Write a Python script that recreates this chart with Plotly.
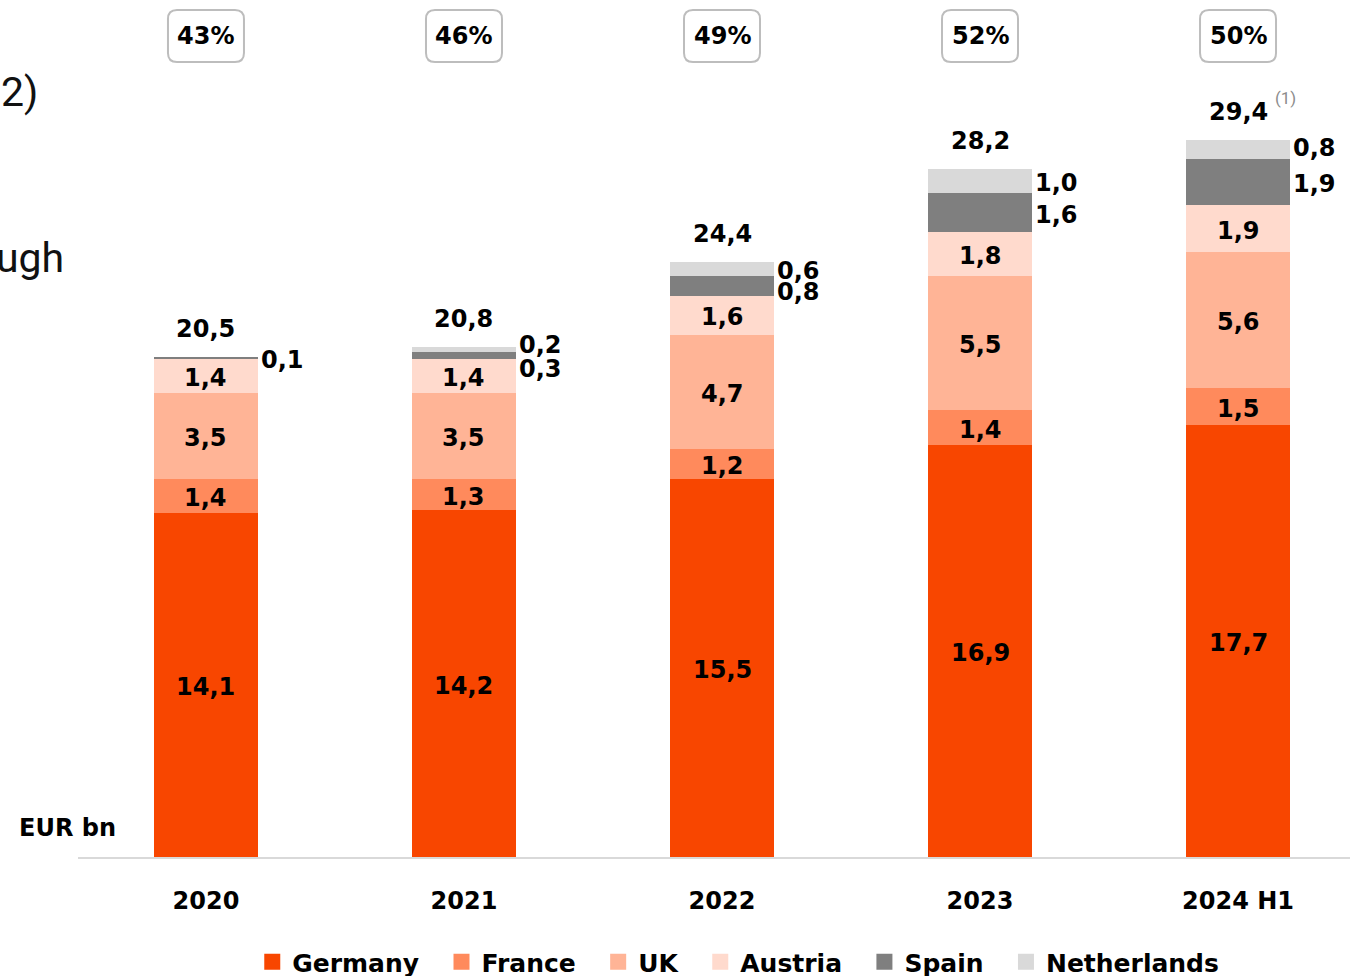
import plotly.graph_objects as go

# Data (EUR bn)
years = ['2020', '2021', '2022', '2023', '2024 H1']
germany = [14.1, 14.2, 15.5, 16.9, 17.7]
france = [1.4, 1.3, 1.2, 1.4, 1.5]
uk = [3.5, 3.5, 4.7, 5.5, 5.6]
austria = [1.4, 1.4, 1.6, 1.8, 1.9]
spain = [0.1, 0.3, 0.8, 1.6, 1.9]
netherlands = [0.0, 0.2, 0.6, 1.0, 0.8]
totals = [20.5, 20.8, 24.4, 28.2, 29.4]
shares = ['43%', '46%', '49%', '52%', '50%']

series = [
    ('Germany', germany, '#F84600'),
    ('France', france, '#FF8A5C'),
    ('UK', uk, '#FFB496'),
    ('Austria', austria, '#FFDACD'),
    ('Spain', spain, '#7F7F7F'),
    ('Netherlands', netherlands, '#D9D9D9'),
]
outside = ['Spain', 'Netherlands']
# nudges for crowded outside labels (pixels, per year index)
nudge = {('Netherlands', 1): 6, ('Spain', 1): -11, ('Netherlands', 2): 0, ('Spain', 2): -4,
         ('Netherlands', 4): 3}

FONT = 'DejaVu Sans'
LBL = dict(size=24, color='#000', family=FONT, weight=700)
x = list(range(len(years)))
fmt = lambda v: f'{v:.1f}'.replace('.', ',')

fig = go.Figure()
annotations = []
base = [0.0] * len(years)
for name, vals, color in series:
    fig.add_trace(go.Bar(
        x=x, y=vals, name=name, width=0.4,
        marker=dict(color=color, line=dict(width=0)),
        showlegend=False, hoverinfo='skip'
    ))
    # legend proxy with bigger square
    fig.add_trace(go.Scatter(
        x=[None], y=[None], mode='markers', name=name + '\u00a0\u00a0',
        marker=dict(symbol='square', size=18, color=color)
    ))
    for i, v in enumerate(vals):
        if v <= 0:
            continue
        mid = base[i] + v / 2
        if name in outside:
            annotations.append(dict(
                x=i + 0.2, y=mid, text=fmt(v), showarrow=False,
                xanchor='left', yanchor='middle', xshift=1,
                yshift=nudge.get((name, i), 0) - 2, font=LBL
            ))
        else:
            annotations.append(dict(x=i, y=mid, text=fmt(v), showarrow=False,
                                    yshift=-2, font=LBL))
        base[i] += v

# totals above bars
for i, t in enumerate(totals):
    annotations.append(dict(
        x=i, y=base[i], text=fmt(t), showarrow=False, yanchor='middle', yshift=28,
        font=LBL
    ))
annotations.append(dict(
    x=4, y=base[4], text='(1)', showarrow=False, yanchor='middle',
    xshift=47, yshift=42, font=dict(size=17, color='#8c8c8c', family='Roboto')
))

# share boxes at the top
shapes = []
for i, s in enumerate(shares):
    w, h, r = 38, 26, 9
    path = (f'M{-w + r},{-h} L{w - r},{-h} Q{w},{-h} {w},{-h + r} '
            f'L{w},{h - r} Q{w},{h} {w - r},{h} L{-w + r},{h} '
            f'Q{-w},{h} {-w},{h - r} L{-w},{-h + r} Q{-w},{-h} {-w + r},{-h} Z')
    shapes.append(dict(
        type='path', xref='x', yref='paper', xsizemode='pixel', ysizemode='pixel',
        xanchor=i, yanchor=0.981, path=path,
        line=dict(color='#BDBDBD', width=2), fillcolor='white'
    ))
    annotations.append(dict(
        x=i, y=0.981, yref='paper', text=s, showarrow=False, yanchor='middle', font=LBL
    ))

# unit label and cut-off slide text (positions given in page pixels)
page_text = [
    dict(x=17, y=828, text='EUR bn', xanchor='left', font=LBL),
    dict(x=40, y=92, text='2)', xanchor='right',
         font=dict(size=41, color='#111', family='Roboto')),
    dict(x=66, y=258, text='ugh', xanchor='right',
         font=dict(size=41, color='#111', family='Roboto')),
]
for a in page_text:
    a.update(x=(a['x'] - 78) / 1272, y=(857 - a['y']) / 837, xref='paper', yref='paper',
             yanchor='middle', showarrow=False)
    annotations.append(a)

fig.update_layout(
    width=1350, height=976,
    margin=dict(l=78, r=0, t=20, b=119, autoexpand=False),
    barmode='stack',
    plot_bgcolor='white', paper_bgcolor='white',
    font=dict(family=FONT, color='#000'),
    annotations=annotations, shapes=shapes,
    legend=dict(
        orientation='h', x=0.137, xanchor='left', y=-0.098, yanchor='top',
        font=dict(size=25, family=FONT, weight=700, color='#000'),
        itemsizing='trace', traceorder='normal', tracegroupgap=0
    ),
)
fig.update_xaxes(
    range=[-0.496, 4.434], tickvals=x, ticktext=years,
    showline=True, linecolor='#D9D9D9', linewidth=2,
    showgrid=False, zeroline=False, ticks='', ticklabelstandoff=21,
    tickfont=LBL
)
fig.update_yaxes(range=[0, 34.3], visible=False, showgrid=False, zeroline=False)

fig.write_html('out.html', config={'displayModeBar': False},
               post_script="document.body.style.margin='0';")
